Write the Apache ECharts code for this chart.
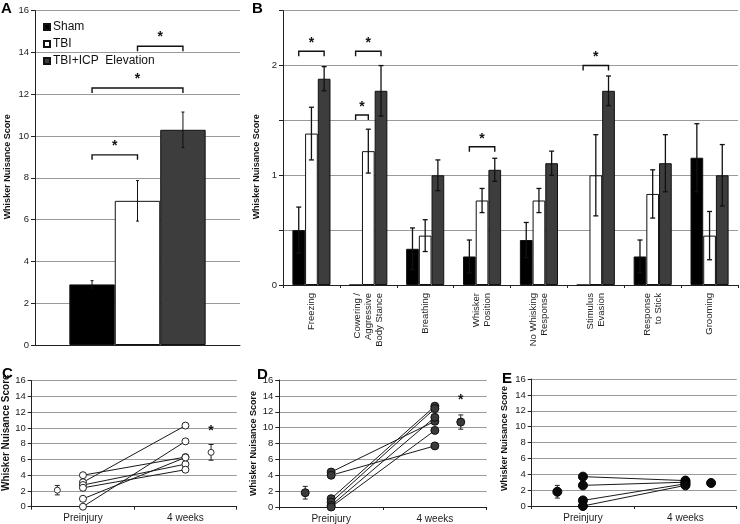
<!DOCTYPE html>
<html><head><meta charset="utf-8">
<script src="https://cdn.jsdelivr.net/npm/echarts@6/dist/echarts.min.js"></script>
<style>html,body{margin:0;padding:0;background:#fff}#c{width:740px;height:524px}</style>
</head><body><div id="c"></div>
<script>
// ---------- data ----------
const groups = ['Sham', 'TBI', 'TBI+ICP  Elevation'];
const groupColors = ['#000000', '#ffffff', '#3d3d3d'];
// Panel A
const aMeans = [2.9, 6.9, 10.3];
const aErr = [0.18, 0.97, 0.85];
const aBrackets = [[0, 1, 2, 14.3], [0, 0, 2, 12.3], [0, 0, 1, 9.1]]; // [cat, g1, g2, y]
// Panel B
const bCats = ['Freezing', 'Cowering /\nAggressive\nBody Stance', 'Breathing', 'Whisker\nPosition',
  'No Whisking\nResponse', 'Stimulus\nEvasion', 'Response\nto Stick', 'Grooming'];
const bSham = [0.5, 0, 0.33, 0.26, 0.41, 0, 0.26, 1.16];
const bTBI = [1.38, 1.22, 0.45, 0.77, 0.77, 1.0, 0.83, 0.45];
const bICP = [1.88, 1.77, 1.0, 1.05, 1.11, 1.77, 1.11, 1.0];
const bShamErr = [0.21, 0, 0.19, 0.15, 0.16, 0, 0.15, 0.31];
const bTBIErr = [0.24, 0.2, 0.145, 0.11, 0.11, 0.37, 0.22, 0.22];
const bICPErr = [0.11, 0.23, 0.14, 0.105, 0.11, 0.135, 0.26, 0.28];
const bBrackets = [[0, 0, 2, 2.13], [1, 0, 2, 2.13], [1, 0, 1, 1.55], [3, 0, 2, 1.26], [5, 0, 2, 2.0]];
// Panels C, D, E
const timeLabels = ['Preinjury', '4 weeks'];
const timeX = [1, 3];
const meanX = [0.5, 3.5];
const cPre = [4.0, 3.1, 2.75, 2.4, 1.0, 0];
const cPost = [6.3, 10.3, 5.4, 4.7, 6.25, 8.3];
const cMean = [2.1, 6.9];
const cErr = [0.6, 1.0];
const cStar = [3.5, 9.65];
const dPre = [4.4, 4.0, 1.05, 0.6, 0.2, 0];
const dPost = [10.8, 7.7, 12.7, 12.4, 11.3, 9.65];
const dMean = [1.8, 10.7];
const dErr = [0.8, 0.9];
const dStar = [3.5, 13.5];
const ePre = [3.7, 2.6, 0.7, 0];
const ePost = [3.2, 3.0, 2.8, 2.6];
const eMean = [1.8, 2.9];
const eErr = [0.8, 0];

// ---------- helpers ----------
const FONT = 'Liberation Sans, Arial, sans-serif';
const GRID_COLOR = '#9a9a9a';
const AXIS_COLOR = '#222';

function yAxisCfg(gridIndex, max, interval, nameGap, namePad, intOnly, nameSize) {
  const cfg = {
    type: 'value', gridIndex, min: 0, max, interval,
    name: 'Whisker Nuisance Score', nameLocation: 'middle', nameRotate: 90, nameGap,
    nameTextStyle: { fontFamily: FONT, fontWeight: 'bold', fontSize: nameSize || 9, color: '#111', padding: namePad },
    axisLine: { show: true, lineStyle: { color: AXIS_COLOR, width: 1 } },
    axisTick: { show: true, length: 4, lineStyle: { color: AXIS_COLOR } },
    axisLabel: { fontFamily: FONT, fontSize: 9.5, color: '#222', margin: 6 },
    splitLine: { show: true, lineStyle: { color: GRID_COLOR, width: 1 } }
  };
  if (intOnly) {
    cfg.axisLabel.formatter = v => (Math.abs(v - Math.round(v)) < 1e-9 ? String(Math.round(v)) : '');
  }
  return cfg;
}
function xTimeAxis(gridIndex) {
  return {
    type: 'value', gridIndex, min: 0, max: 4, interval: 1,
    axisLine: { show: true, lineStyle: { color: AXIS_COLOR, width: 1 } },
    axisTick: { show: true, length: 3, customValues: [0, 2, 4], lineStyle: { color: AXIS_COLOR } },
    axisLabel: { customValues: timeX, fontFamily: FONT, fontSize: 10, color: '#222', margin: 7,
      formatter: v => timeLabels[timeX.indexOf(v)] || '' },
    splitLine: { show: false }
  };
}
function barOffset(api, cat, gi, gap) {
  const c = api.coord([cat, 0]);
  const band = api.size([1, 0])[0];
  const bw = band * (1 - gap) / 3;
  return c[0] + (gi - 1) * bw;
}
function barErrSeries(xi, means, errs, gi, gap, cap, lw) {
  return {
    type: 'custom', xAxisIndex: xi, yAxisIndex: xi, z: 5, silent: true,
    data: means.map((m, i) => [i, m - errs[i], m + errs[i], errs[i]]),
    renderItem: (params, api) => {
      if (api.value(3) <= 0) return null;
      const cat = api.value(0);
      const x = barOffset(api, cat, gi, gap);
      const yl = api.coord([cat, api.value(1)])[1];
      const yh = api.coord([cat, api.value(2)])[1];
      const st = { stroke: '#111', lineWidth: lw };
      return { type: 'group', children: [
        { type: 'line', shape: { x1: x, y1: yl, x2: x, y2: yh }, style: st },
        { type: 'line', shape: { x1: x - cap, y1: yh, x2: x + cap, y2: yh }, style: st },
        { type: 'line', shape: { x1: x - cap, y1: yl, x2: x + cap, y2: yl }, style: st }
      ] };
    }
  };
}
function bracketSeries(xi, brackets, gap, drop, starOff) {
  return {
    type: 'custom', xAxisIndex: xi, yAxisIndex: xi, z: 6, silent: true,
    data: brackets,
    renderItem: (params, api) => {
      const cat = api.value(0);
      const x1 = barOffset(api, cat, api.value(1), gap);
      const x2 = barOffset(api, cat, api.value(2), gap);
      const y = api.coord([cat, api.value(3)])[1];
      return { type: 'group', children: [
        { type: 'polyline', shape: { points: [[x1, y + drop], [x1, y], [x2, y], [x2, y + drop]] },
          style: { stroke: '#111', lineWidth: 1.4, fill: null } },
        { type: 'text', style: { text: '*', x: (x1 + x2) / 2, y: y - starOff, align: 'center', verticalAlign: 'middle',
          font: 'bold 14px ' + FONT, fill: '#111' } }
      ] };
    }
  };
}
function pairSeries(gi, pre, post, fill, border, size) {
  const out = [];
  pre.forEach((p, i) => {
    out.push({ type: 'line', xAxisIndex: gi, yAxisIndex: gi, silent: true, symbol: 'none', z: 3,
      lineStyle: { color: '#1a1a1a', width: 1 }, data: [[timeX[0], p], [timeX[1], post[i]]] });
  });
  const pts = pre.map(p => [timeX[0], p]).concat(post.map(p => [timeX[1], p]));
  out.push({ type: 'scatter', xAxisIndex: gi, yAxisIndex: gi, silent: true, symbol: 'circle', symbolSize: size, z: 4,
    itemStyle: { color: fill, borderColor: border, borderWidth: 1, opacity: 1 }, data: pts });
  return out;
}
function meanSeries(gi, means, errs, fill, border, size) {
  return [
    { type: 'custom', xAxisIndex: gi, yAxisIndex: gi, silent: true, z: 4,
      data: means.map((m, i) => [meanX[i], m - errs[i], m + errs[i], errs[i]]),
      renderItem: (params, api) => {
        if (api.value(3) <= 0) return null;
        const lo = api.coord([api.value(0), api.value(1)]);
        const hi = api.coord([api.value(0), api.value(2)]);
        const st = { stroke: '#222', lineWidth: 1 };
        return { type: 'group', children: [
          { type: 'line', shape: { x1: lo[0], y1: lo[1], x2: hi[0], y2: hi[1] }, style: st },
          { type: 'line', shape: { x1: hi[0] - 2.5, y1: hi[1], x2: hi[0] + 2.5, y2: hi[1] }, style: st },
          { type: 'line', shape: { x1: lo[0] - 2.5, y1: lo[1], x2: lo[0] + 2.5, y2: lo[1] }, style: st }
        ] };
      } },
    { type: 'scatter', xAxisIndex: gi, yAxisIndex: gi, silent: true, symbol: 'circle', symbolSize: size, z: 5,
      itemStyle: { color: fill, borderColor: border, borderWidth: 1, opacity: 1 },
      data: means.map((m, i) => [meanX[i], m]) }
  ];
}
function starSeries(gi, pos) {
  return { type: 'custom', xAxisIndex: gi, yAxisIndex: gi, silent: true, z: 6, data: [pos],
    renderItem: (params, api) => {
      const p = api.coord([api.value(0), api.value(1)]);
      return { type: 'text', style: { text: '*', x: p[0], y: p[1], align: 'center', verticalAlign: 'middle',
        font: 'bold 14px ' + FONT, fill: '#111' } };
    } };
}

const A_GAP = 0.335, B_GAP = 0.33;
const series = [];
// Panel A bars
groups.forEach((g, i) => {
  series.push({ name: g, type: 'bar', xAxisIndex: 0, yAxisIndex: 0, barGap: '0%', barCategoryGap: '33.5%',
    itemStyle: { color: groupColors[i], borderColor: '#111', borderWidth: 1 }, data: [aMeans[i]] });
});
groups.forEach((g, i) => series.push(barErrSeries(0, [aMeans[i]], [aErr[i]], i, A_GAP, 1.5, 1)));
series.push(bracketSeries(0, aBrackets, A_GAP, 5, 9));
// Panel B bars
const bVals = [bSham, bTBI, bICP], bErrs = [bShamErr, bTBIErr, bICPErr];
groups.forEach((g, i) => {
  series.push({ name: g, type: 'bar', xAxisIndex: 1, yAxisIndex: 1, barGap: '0%', barCategoryGap: '33%',
    itemStyle: { color: groupColors[i], borderColor: '#111', borderWidth: 1 }, data: bVals[i] });
});
groups.forEach((g, i) => series.push(barErrSeries(1, bVals[i], bErrs[i], i, B_GAP, 2.5, 1.3)));
series.push(bracketSeries(1, bBrackets, B_GAP, 5, 8));
// Panels C, D, E
series.push(...pairSeries(2, cPre, cPost, '#ffffff', '#222', 7));
series.push(...meanSeries(2, cMean, cErr, '#ffffff', '#333', 6));
series.push(starSeries(2, cStar));
series.push(...pairSeries(3, dPre, dPost, '#3a3a3a', '#111', 8));
series.push(...meanSeries(3, dMean, dErr, '#3a3a3a', '#111', 8));
series.push(starSeries(3, dStar));
series.push(...pairSeries(4, ePre, ePost, '#0a0a0a', '#000', 9));
series.push(...meanSeries(4, eMean, eErr, '#0a0a0a', '#000', 9));

const letter = (t, x, y) => ({ type: 'text', left: x, top: y,
  style: { text: t, font: 'bold 15px ' + FONT, fill: '#000' } });

const option = {
  animation: false,
  backgroundColor: '#fff',
  textStyle: { fontFamily: FONT },
  grid: [
    { left: 35, top: 10.7, width: 205, height: 334.3 },
    { left: 283, top: 10.7, width: 455, height: 274.3 },
    { left: 31.7, top: 380.7, width: 205, height: 126 },
    { left: 279.3, top: 380, width: 207.4, height: 127.7 },
    { left: 531.7, top: 379, width: 205, height: 127 }
  ],
  legend: {
    data: groups, orient: 'vertical', left: 38, top: 16, itemWidth: 6, itemHeight: 6, itemGap: 5,
    selectedMode: false, icon: 'rect',
    textStyle: { fontFamily: FONT, fontSize: 12, color: '#111', padding: [0, 0, 0, -2] }
  },
  xAxis: [
    { type: 'category', gridIndex: 0, data: [''], axisLine: { lineStyle: { color: AXIS_COLOR } },
      axisTick: { show: false }, axisLabel: { show: false } },
    { type: 'category', gridIndex: 1, data: bCats, axisLine: { lineStyle: { color: AXIS_COLOR } },
      axisTick: { show: true, length: 3, lineStyle: { color: AXIS_COLOR } },
      axisLabel: { rotate: 90, interval: 0, fontFamily: FONT, fontSize: 9.5, lineHeight: 11, color: '#222', margin: 8 } },
    xTimeAxis(2), xTimeAxis(3), xTimeAxis(4)
  ],
  yAxis: [
    yAxisCfg(0, 16, 2, 23, [0, 0, 0, 22]),
    yAxisCfg(1, 2.5, 0.5, 21, [0, 38, 0, 0], true),
    yAxisCfg(2, 16, 2, 19, [0, 0, 0, 22], false, 10),
    yAxisCfg(3, 16, 2, 21, [0, 0, 0, 0]),
    yAxisCfg(4, 16, 2, 23, [0, 0, 0, 8])
  ],
  graphic: [letter('A', 1, 1), letter('B', 252, 1), letter('C', 2, 366), letter('D', 257, 367), letter('E', 502, 371)],
  series
};
const chart = echarts.init(document.getElementById('c'), null, { renderer: 'canvas' });
chart.setOption(option);
</script></body></html>
